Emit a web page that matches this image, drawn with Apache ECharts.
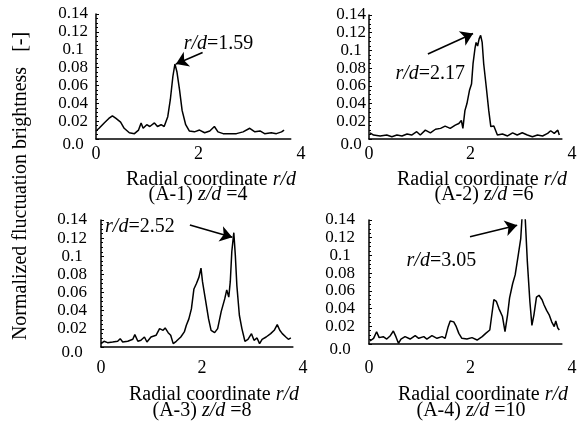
<!DOCTYPE html>
<html>
<head>
<meta charset="utf-8">
<script src="https://cdn.jsdelivr.net/npm/echarts@6/dist/echarts.min.js"></script>
<style>
html, body { margin: 0; padding: 0; background: #fff; }
#main { width: 583px; height: 425px; }
</style>
</head>
<body>
<div id="main"></div>
<script>
// (A-1) z/d = 4
var r1 = [0.00,0.06,0.16,0.25,0.32,0.39,0.48,0.55,0.65,0.75,0.83,0.88,0.92,0.99,1.05,1.14,1.20,1.27,1.33,1.40,1.45,1.50,1.54,1.58,1.63,1.68,1.75,1.82,1.92,2.02,2.12,2.22,2.31,2.38,2.48,2.61,2.74,2.87,3.00,3.10,3.20,3.29,3.42,3.52,3.62,3.67];
var b1 = [0.009,0.012,0.018,0.023,0.026,0.023,0.019,0.012,0.007,0.006,0.010,0.018,0.012,0.016,0.014,0.018,0.014,0.016,0.014,0.025,0.044,0.070,0.084,0.075,0.055,0.032,0.016,0.009,0.008,0.010,0.007,0.009,0.014,0.008,0.006,0.006,0.006,0.008,0.012,0.008,0.009,0.006,0.007,0.006,0.008,0.010];
// (A-2) z/d = 6
var r2 = [0.02,0.09,0.22,0.35,0.45,0.55,0.65,0.75,0.84,0.94,1.01,1.11,1.21,1.31,1.41,1.50,1.60,1.70,1.77,1.82,1.85,1.89,1.93,1.98,2.02,2.05,2.09,2.11,2.14,2.17,2.20,2.23,2.26,2.31,2.36,2.40,2.46,2.53,2.63,2.73,2.83,2.92,3.02,3.12,3.22,3.32,3.42,3.52,3.58,3.65,3.72,3.75];
var b2 = [0.007,0.0045,0.0034,0.0045,0.0026,0.0045,0.0034,0.0056,0.0045,0.0082,0.0045,0.010,0.007,0.011,0.012,0.0146,0.012,0.0157,0.0175,0.021,0.012,0.032,0.040,0.055,0.062,0.085,0.103,0.109,0.105,0.113,0.117,0.109,0.085,0.059,0.032,0.014,0.0146,0.0045,0.0056,0.0034,0.007,0.0045,0.007,0.0045,0.0026,0.0045,0.0034,0.0063,0.0093,0.0063,0.010,0.0045];
// (A-3) z/d = 8
var r3 = [0.00,0.06,0.13,0.23,0.33,0.38,0.43,0.53,0.63,0.67,0.73,0.79,0.86,0.91,0.99,1.09,1.16,1.23,1.27,1.33,1.38,1.43,1.49,1.58,1.65,1.69,1.74,1.79,1.84,1.89,1.94,1.98,2.01,2.06,2.13,2.18,2.25,2.31,2.38,2.45,2.49,2.53,2.56,2.59,2.63,2.66,2.69,2.74,2.79,2.85,2.91,2.98,3.03,3.09,3.14,3.19,3.27,3.36,3.43,3.49,3.54,3.59,3.66,3.71,3.76];
var b3 = [0.0037,0.0063,0.0048,0.0055,0.0063,0.0092,0.0055,0.0063,0.0085,0.0136,0.0063,0.0074,0.011,0.0055,0.011,0.0129,0.0203,0.0184,0.021,0.0158,0.0129,0.0037,0.0063,0.011,0.0166,0.024,0.031,0.042,0.064,0.070,0.077,0.087,0.072,0.055,0.031,0.0184,0.0158,0.0203,0.039,0.053,0.063,0.055,0.072,0.105,0.126,0.101,0.068,0.035,0.0203,0.0063,0.0085,0.0147,0.0074,0.010,0.0037,0.0085,0.011,0.0147,0.0184,0.0247,0.0184,0.0147,0.011,0.0085,0.010];
// (A-4) z/d = 10
var r4 = [0.02,0.09,0.15,0.20,0.28,0.35,0.42,0.48,0.53,0.58,0.63,0.71,0.81,0.91,0.98,1.08,1.14,1.24,1.34,1.44,1.50,1.56,1.60,1.67,1.72,1.77,1.83,1.93,2.03,2.13,2.23,2.30,2.38,2.42,2.46,2.51,2.56,2.63,2.68,2.73,2.77,2.83,2.88,2.94,2.99,3.05,3.12,3.17,3.21,3.25,3.30,3.35,3.41,3.45,3.50,3.55,3.60,3.65,3.68,3.72,3.75];
var b4 = [0.0034,0.0064,0.0139,0.0072,0.0083,0.0056,0.0094,0.0147,0.0083,0.0008,0.0056,0.0083,0.0056,0.0094,0.0064,0.0083,0.0056,0.0094,0.0064,0.0083,0.0064,0.0196,0.026,0.025,0.0196,0.012,0.0064,0.0056,0.0072,0.0045,0.0083,0.012,0.0158,0.033,0.050,0.048,0.040,0.031,0.0139,0.033,0.052,0.068,0.078,0.100,0.119,0.175,0.093,0.048,0.021,0.033,0.053,0.055,0.050,0.044,0.038,0.033,0.025,0.0196,0.026,0.018,0.0158];

// tick labels
var yTicks = ['0.0','0.02','0.04','0.06','0.08','0.1','0.12','0.14'];
var xTicks = [0, 2, 4];

// peak annotations: text position, text, arrow start, arrow tip (data units)
var peakText = ['1.59', '2.17', '2.52', '3.05'];
var textPos = [[1.71, 0.107], [0.52, 0.074], [0.08, 0.1325], [0.74, 0.094]];
var arrowFrom = [[2.08, 0.097], [1.16, 0.096], [1.76, 0.1345], [1.99, 0.121]];
var arrowTo = [[1.56, 0.084], [2.05, 0.119], [2.60, 0.121], [2.92, 0.134]];
var caseNames = ['(A-1)', '(A-2)', '(A-3)', '(A-4)'];
var zd = ['4', '6', '8', '10'];

var FONT = '"Liberation Serif", "Times New Roman", serif';

// layout of the four panels
var panels = [
    { r: r1, b: b1, left: 96, top: 14, width: 205, height: 125, yMargin: 23, xMargin: 6, t1: [211, 180], t2: [198, 195] },
    { r: r2, b: b2, left: 369, top: 15, width: 203, height: 124, yMargin: 18, xMargin: 6, t1: [482, 180], t2: [484, 195] },
    { r: r3, b: b3, left: 101, top: 220, width: 202, height: 127, yMargin: 29, xMargin: 12, t1: [214, 395], t2: [202, 411] },
    { r: r4, b: b4, left: 369, top: 220, width: 203, height: 124, yMargin: 29, xMargin: 15, t1: [483, 395], t2: [471, 411] }
];

var grids = [], xAxes = [], yAxes = [], series = [], graphics = [];

panels.forEach(function (p, i) {
    var pts = p.r.map(function (x, k) { return [x, p.b[k]]; });
    // data grid: axis line stops at r/d = 3.8
    grids.push({ left: p.left, top: p.top, width: p.width * 3.8 / 4, height: p.height });
    // label grid: tick labels up to 4
    grids.push({ left: p.left, top: p.top, width: p.width, height: p.height });
    var gd = i * 2, gl = i * 2 + 1;

    xAxes.push({
        type: 'value', gridIndex: gd, min: 0, max: 3.8,
        axisLine: { show: true, onZero: false, lineStyle: { color: '#000', width: 1.5 } },
        axisTick: { show: false }, axisLabel: { show: false }, splitLine: { show: false }
    });
    xAxes.push({
        type: 'value', gridIndex: gl, min: 0, max: 4, interval: 2,
        axisLine: { show: false }, axisTick: { show: false }, splitLine: { show: false },
        axisLabel: {
            color: '#000', fontFamily: FONT, fontSize: 18, margin: p.xMargin,
            showMinLabel: true, showMaxLabel: true
        }
    });
    yAxes.push({
        type: 'value', gridIndex: gd, min: 0, max: 0.14, interval: 0.02,
        axisLine: { show: true, lineStyle: { color: '#000', width: 1.5 } },
        axisTick: { show: true, inside: true, length: 3, lineStyle: { color: '#000' } },
        minorTick: { show: true, splitNumber: 4, length: 2, lineStyle: { color: '#000' } },
        splitLine: { show: false },
        axisLabel: {
            color: '#000', fontFamily: FONT, fontSize: 17, margin: p.yMargin, align: 'center',
            showMinLabel: true, showMaxLabel: true,
            formatter: function (v) {
                var k = Math.round(v / 0.02);
                return k === 0 ? '{z|' + yTicks[0] + '}' : yTicks[k];
            },
            rich: { z: { fontFamily: FONT, fontSize: 17, color: '#000', padding: [12, 0, 0, 0] } }
        }
    });
    yAxes.push({ type: 'value', gridIndex: gl, min: 0, max: 0.14, show: false });

    series.push({
        type: 'line', xAxisIndex: gd, yAxisIndex: gd, data: pts,
        symbol: 'none', clip: true, animation: false,
        lineStyle: { color: '#000', width: 1.5 },
        markLine: {
            silent: true, animation: false,
            symbol: ['none', 'arrow'], symbolSize: 12,
            label: { show: false },
            lineStyle: { color: '#000', width: 1.6, type: 'solid' },
            data: [[{ coord: arrowFrom[i] }, { coord: arrowTo[i] }]]
        },
        markPoint: {
            silent: true, animation: false,
            data: [{
                coord: textPos[i], symbol: 'circle', symbolSize: 0,
                label: {
                    show: true, position: 'right', distance: 0,
                    formatter: '{i|r/d}=' + peakText[i],
                    color: '#000', fontFamily: FONT, fontSize: 20,
                    rich: { i: { fontStyle: 'italic', fontFamily: FONT, fontSize: 20, color: '#000' } }
                }
            }]
        }
    });

    graphics.push({
        type: 'text', x: p.t1[0], y: p.t1[1],
        style: {
            text: 'Radial coordinate {i|r/d}', align: 'center', verticalAlign: 'middle',
            fill: '#000', fontFamily: FONT, fontSize: 20,
            rich: { i: { fontStyle: 'italic', fontFamily: FONT, fontSize: 20 } }
        }
    });
    graphics.push({
        type: 'text', x: p.t2[0], y: p.t2[1],
        style: {
            text: caseNames[i] + ' {i|z/d} =' + zd[i], align: 'center', verticalAlign: 'middle',
            fill: '#000', fontFamily: FONT, fontSize: 20,
            rich: { i: { fontStyle: 'italic', fontFamily: FONT, fontSize: 20 } }
        }
    });
});

// shared y axis title
graphics.push({
    type: 'text', x: 21, y: 186, rotation: Math.PI / 2,
    style: {
        text: 'Normalized fluctuation brightness   [-]', align: 'center', verticalAlign: 'middle',
        fill: '#000', fontFamily: FONT, fontSize: 20
    }
});

var chart = echarts.init(document.getElementById('main'));
chart.setOption({
    animation: false,
    backgroundColor: '#fff',
    grid: grids,
    xAxis: xAxes,
    yAxis: yAxes,
    series: series,
    graphic: graphics
});
</script>
</body>
</html>
